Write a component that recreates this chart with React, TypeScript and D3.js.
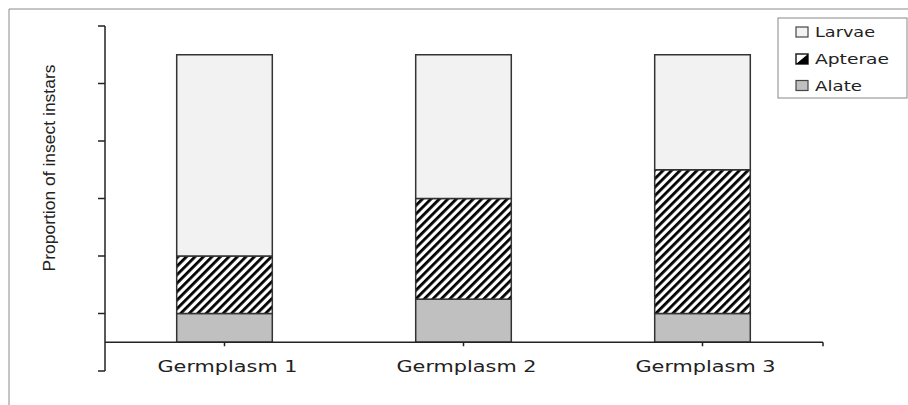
import React from 'react';
import * as d3 from 'd3';

const categories = ['Germplasm 1', 'Germplasm 2', 'Germplasm 3'];
const alate = [0.1, 0.15, 0.1];
const apterae = [0.2, 0.35, 0.5];
const larvae = [0.7, 0.5, 0.4];
const yTicks = [-0.1, 0.1, 0.3, 0.5, 0.7, 0.9, 1.1];
const seriesKeys = ['Alate', 'Apterae', 'Larvae'];
const legendItems = ['Larvae', 'Apterae', 'Alate'];
const legendTextWidths: Record<string, number> = { Larvae: 60, Apterae: 74, Alate: 47 };

const fills: Record<string, string> = {
  Alate: '#c0c0c0',
  Apterae: 'url(#hatch)',
  Larvae: '#f2f2f2',
};

const W = 908;
const H = 405;

const App: React.FC = () => {
  const x = d3.scaleBand<string>()
    .domain(categories)
    .range([105, 822])
    .paddingInner(0.6)
    .paddingOuter(0.3);

  const y = d3.scaleLinear().domain([-0.1, 1.1]).range([371, 26]);

  const rows = categories.map((c, i) => ({
    name: c,
    Alate: alate[i],
    Apterae: apterae[i],
    Larvae: larvae[i],
  }));
  const stacked = d3.stack<any>().keys(seriesKeys)(rows);

  const font = '"DejaVu Sans", Verdana, sans-serif';
  const x0 = y(0);

  return (
    <svg width={W} height={H} style={{ position: 'absolute', left: 0, top: 0, background: '#fff' }}>
      <defs>
        <pattern id="hatch" width="6" height="6" patternUnits="userSpaceOnUse" patternTransform="rotate(45)">
          <rect width="6" height="6" fill="#fff" />
          <rect width="2.8" height="6" fill="#000" />
        </pattern>
      </defs>

      {/* outer frame (cropped) */}
      <line x1={9} x2={W} y1={9} y2={9} stroke="#8a8a8a" strokeWidth={1} />
      <line x1={9} x2={9} y1={9} y2={H} stroke="#8a8a8a" strokeWidth={1} />

      {/* bars */}
      {stacked.map(s => (
        <g key={s.key}>
          {s.map((d, i) => (
            <rect
              key={i}
              x={x(categories[i])}
              width={x.bandwidth()}
              y={y(d[1])}
              height={y(d[0]) - y(d[1])}
              fill={fills[s.key]}
              stroke="#333"
              strokeWidth={1.5}
            />
          ))}
        </g>
      ))}

      {/* y axis */}
      <line x1={105} x2={105} y1={y(1.1)} y2={y(-0.1)} stroke="#222" strokeWidth={1.5} />
      {yTicks.map(t => (
        <line key={t} x1={98} x2={105} y1={y(t)} y2={y(t)} stroke="#222" strokeWidth={1.5} />
      ))}

      {/* x axis */}
      <line x1={105} x2={823} y1={x0} y2={x0} stroke="#222" strokeWidth={1.5} />
      {categories.map(c => (
        <line key={c} x1={x(c)! + x.bandwidth() / 2} x2={x(c)! + x.bandwidth() / 2} y1={x0} y2={x0 + 4} stroke="#222" strokeWidth={1.5} />
      ))}
      <line x1={823} x2={823} y1={x0} y2={x0 + 4} stroke="#222" strokeWidth={1.5} />

      {categories.map(c => (
        <text
          key={c}
          x={x(c)! + x.bandwidth() / 2 + 3}
          y={372}
          textAnchor="middle"
          fontFamily={font}
          fontSize={15}
          fill="#222"
          textLength={140}
          lengthAdjust="spacingAndGlyphs"
        >
          {c}
        </text>
      ))}

      {/* y label */}
      <text
        transform="translate(55,168) rotate(-90)"
        textAnchor="middle"
        fontFamily='"Liberation Sans", Arial, sans-serif'
        fontSize={16.5}
        fill="#222"
        textLength={207}
        lengthAdjust="spacingAndGlyphs"
      >
        Proportion of insect instars
      </text>

      {/* legend */}
      <rect x={778} y={18} width={129} height={80} fill="#fff" stroke="#888" strokeWidth={1} />
      {legendItems.map((k, i) => {
        const cy = [32, 59, 85.5][i];
        return (
          <g key={k}>
            {k === 'Apterae' ? (
              <g>
                <rect x={796} y={cy - 5} width={12} height={10} fill="#fff" stroke="#222" strokeWidth={1.5} />
                <path d={`M${808},${cy - 5}L${808},${cy + 5}L${796},${cy + 5}Z`} fill="#000" />
              </g>
            ) : (
              <rect x={796} y={cy - 5} width={12} height={10} fill={fills[k]} stroke="#444" strokeWidth={1.2} />
            )}
            <text
              x={815}
              y={cy + 5}
              fontFamily={font}
              fontSize={14.5}
              fill="#222"
              textLength={legendTextWidths[k]}
              lengthAdjust="spacingAndGlyphs"
            >
              {k}
            </text>
          </g>
        );
      })}
    </svg>
  );
};

export default App;
